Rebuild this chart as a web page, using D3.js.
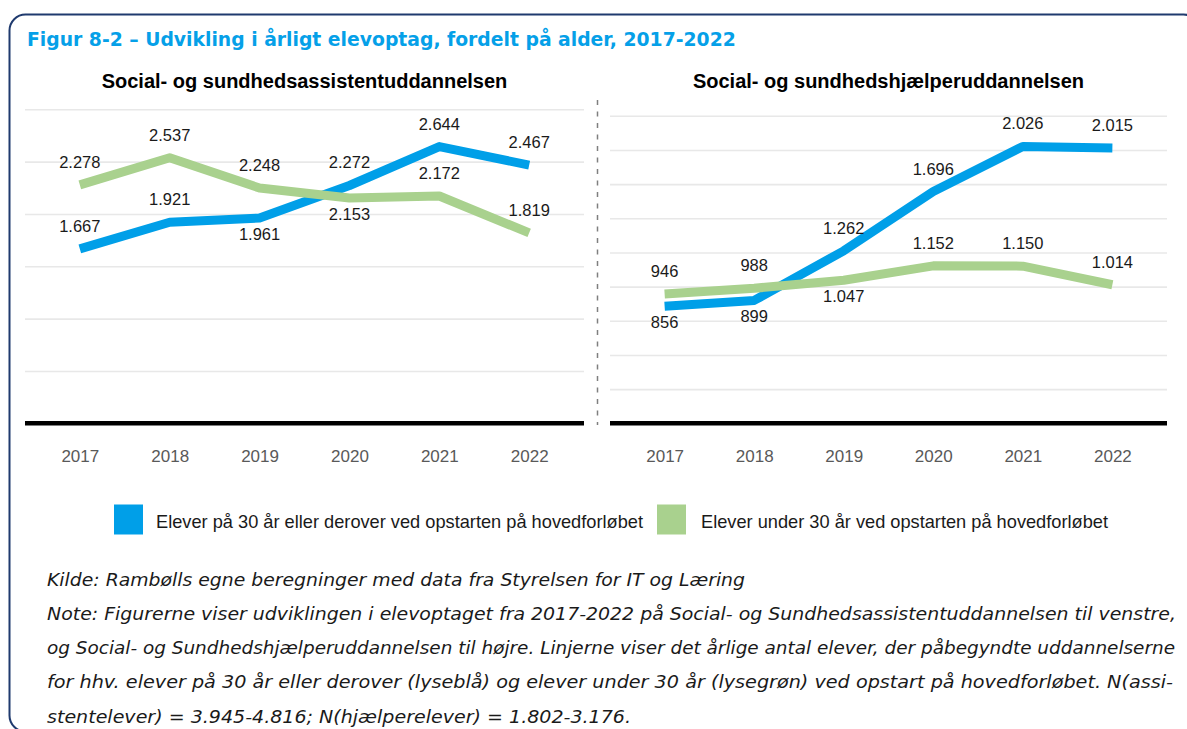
<!DOCTYPE html>
<html>
<head>
<meta charset="utf-8">
<script src="https://cdn.jsdelivr.net/npm/d3@7"></script>
<style>
  html, body { margin: 0; padding: 0; background: #fff; }
  svg { display: block; }
</style>
</head>
<body>
<div id="chart"></div>
<script>
// data
const years = ['2017', '2018', '2019', '2020', '2021', '2022'];
const seriesNames = [
    'Elever på 30 år eller derover ved opstarten på hovedforløbet',
    'Elever under 30 år ved opstarten på hovedforløbet'
];
const assistOver = [1667, 1921, 1961, 2272, 2644, 2467];
const assistUnder = [2278, 2537, 2248, 2153, 2172, 1819];
const helperOver = [856, 899, 1262, 1696, 2026, 2015];
const helperUnder = [946, 988, 1047, 1152, 1150, 1014];
const assistTicks = [0, 500, 1000, 1500, 2000, 2500, 3000];
const helperTicks = [0, 250, 500, 750, 1000, 1250, 1500, 1750, 2000, 2250];

const titleText = 'Figur 8-2 – Udvikling i årligt elevoptag, fordelt på alder, 2017-2022';
const noteLines = [
    'Kilde: Rambølls egne beregninger med data fra Styrelsen for IT og Læring',
    'Note: Figurerne viser udviklingen i elevoptaget fra 2017-2022 på Social- og Sundhedsassistentuddannelsen til venstre,',
    'og Social- og Sundhedshjælperuddannelsen til højre. Linjerne viser det årlige antal elever, der påbegyndte uddannelserne',
    'for hhv. elever på 30 år eller derover (lyseblå) og elever under 30 år (lysegrøn) ved opstart på hovedforløbet. N(assi-',
    'stentelever) = 3.945-4.816; N(hjælperelever) = 1.802-3.176.'
];

const colors = ['#009fe8', '#a9d18e'];
const fmt = d3.formatLocale({decimal: ',', thousands: '.', grouping: [3], currency: ['', '']}).format(',d');

const W = 1187, H = 729;
const svg = d3.select('#chart').append('svg')
    .attr('width', W)
    .attr('height', H);

// frame
svg.append('rect')
    .attr('x', 9.5).attr('y', 14.5)
    .attr('width', 1190).attr('height', 717)
    .attr('rx', 16)
    .attr('fill', 'none')
    .attr('stroke', '#1f3a6e')
    .attr('stroke-width', 2);

// title, fitted to the width it takes in the figure
const title = svg.append('text')
    .attr('x', 27).attr('y', 46)
    .attr('font-family', 'DejaVu Sans, Verdana, sans-serif')
    .attr('font-weight', 'bold')
    .attr('font-size', 17)
    .attr('fill', '#05a0e8')
    .text(titleText);
const tLen = title.node().getComputedTextLength();
title.attr('font-size', 17 * 709 / tLen);

const panels = [
    {name: 'Social- og sundhedsassistentuddannelsen', x0: 25, x1: 584, top: 109.3, ticks: assistTicks,
        series: [assistOver, assistUnder], below: [[2], [3]]},
    {name: 'Social- og sundhedshjælperuddannelsen', x0: 610, x1: 1167, top: 115.8, ticks: helperTicks,
        series: [helperOver, helperUnder], below: [[0, 1], [2]]}
];
const baseY = 423.3;

panels.forEach(p => {
    const g = svg.append('g');
    const x = d3.scalePoint().domain(years).range([p.x0, p.x1]).padding(0.61);
    const y = d3.scaleLinear().domain([0, d3.max(p.ticks)]).range([baseY, p.top]);

    // gridlines
    g.append('g')
        .attr('transform', 'translate(' + p.x0 + ',0)')
        .call(d3.axisLeft(y).tickValues(p.ticks.slice(1)).tickSize(-(p.x1 - p.x0)).tickFormat(''))
        .call(a => a.select('.domain').remove())
        .call(a => a.selectAll('.tick line').attr('stroke', '#e8e8e8').attr('stroke-width', 1.6));

    // category axis
    g.append('g')
        .attr('transform', 'translate(0,' + baseY + ')')
        .call(d3.axisBottom(x).tickSize(0).tickPadding(27))
        .call(a => a.select('.domain').remove())
        .call(a => a.selectAll('text')
            .attr('font-family', 'Liberation Sans, Arial, sans-serif')
            .attr('font-size', 17)
            .attr('fill', '#595959'));

    g.append('line')
        .attr('x1', p.x0).attr('x2', p.x1)
        .attr('y1', y(0)).attr('y2', y(0))
        .attr('stroke', '#000')
        .attr('stroke-width', 4.5);

    g.append('text')
        .attr('x', (p.x0 + p.x1) / 2).attr('y', 88)
        .attr('text-anchor', 'middle')
        .attr('font-family', 'Liberation Sans, Arial, sans-serif')
        .attr('font-weight', 'bold')
        .attr('font-size', 20)
        .attr('fill', '#000')
        .text(p.name);

    const line = d3.line()
        .x((d, i) => x(years[i]))
        .y(d => y(d));

    p.series.forEach((vals, si) => {
        g.append('path')
            .datum(vals)
            .attr('d', line)
            .attr('fill', 'none')
            .attr('stroke', colors[si])
            .attr('stroke-width', 9)
            .attr('stroke-linejoin', 'round');
    });

    p.series.forEach((vals, si) => {
        g.selectAll(null)
            .data(vals)
            .enter()
            .append('text')
            .attr('x', (d, i) => x(years[i]))
            .attr('y', (d, i) => p.below[si].includes(i) ? y(d) + 22 : y(d) - 17)
            .attr('text-anchor', 'middle')
            .attr('font-family', 'Liberation Sans, Arial, sans-serif')
            .attr('font-size', 16.5)
            .attr('fill', '#1a1a1a')
            .text(d => fmt(d));
    });
});

// dashed separator between the panels
svg.append('line')
    .attr('x1', 597.5).attr('x2', 597.5)
    .attr('y1', 100).attr('y2', 425)
    .attr('stroke', '#7f7f7f')
    .attr('stroke-width', 1.5)
    .attr('stroke-dasharray', '5,6.5');

// legend
const legendItems = [
    {sx: 114, tx: 156, w: 487},
    {sx: 657, tx: 701, w: 407}
];
legendItems.forEach((l, i) => {
    svg.append('rect')
        .attr('x', l.sx).attr('y', 504.5)
        .attr('width', 29).attr('height', 30)
        .attr('fill', colors[i]);
    svg.append('text')
        .attr('x', l.tx).attr('y', 528)
        .attr('font-family', 'Liberation Sans, Arial, sans-serif')
        .attr('font-size', 18.5)
        .attr('fill', '#1a1a1a')
        .attr('textLength', l.w)
        .attr('lengthAdjust', 'spacingAndGlyphs')
        .text(seriesNames[i]);
});

// source and note
const noteWidths = [698, 1129, 1128, 1126, 584];
svg.selectAll('.note')
    .data(noteLines)
    .enter()
    .append('text')
    .attr('class', 'note')
    .attr('x', 47)
    .attr('y', (d, i) => 585.5 + i * 34.3)
    .attr('font-family', 'DejaVu Sans, Verdana, sans-serif')
    .attr('font-style', 'italic')
    .attr('font-size', 18)
    .attr('fill', '#1a1a1a')
    .attr('textLength', (d, i) => noteWidths[i])
    .attr('lengthAdjust', 'spacingAndGlyphs')
    .text(d => d);
</script>
</body>
</html>
